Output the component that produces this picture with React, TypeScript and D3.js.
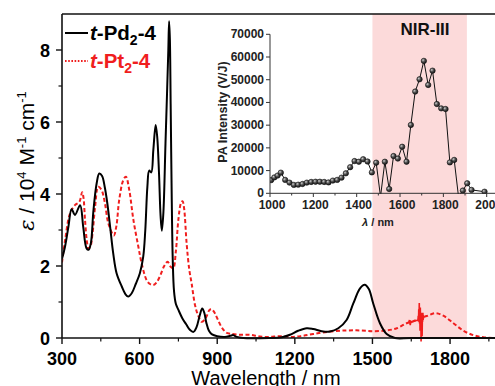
import React from "react";
import * as d3 from "d3";

// ---- Main spectrum data ----
const pdWavelength = [300,312,325,337,350,370,382,395,403,412,421,434,444,455,465,475,486,498,511,531,545,556,570,585,601,614,622,630,637,645,653,662,668,675,681,686,692,700,706,711,714,717,720,724,728,733,740,750,765,780,795,808,820,832,842,850,858,868,880,900,930,950,962,975,1000,1100,1150,1181,1213,1246,1271,1304,1336,1368,1400,1426,1452,1470,1486,1503,1529,1555,1587,1650,2000];
const pdValues = [2.2,2.55,3.1,3.58,3.42,3.69,3.09,2.49,2.45,2.65,3.5,4.3,4.57,4.5,4.2,3.75,3.09,2.35,1.8,1.43,1.22,1.15,1.25,1.5,1.8,2.26,3.0,4.2,4.65,4.6,5.22,5.92,5.59,4.57,3.4,2.98,3.5,5.4,6.8,8.0,8.8,8.3,6.5,4.0,2.2,1.3,0.95,0.78,0.55,0.38,0.22,0.17,0.3,0.62,0.82,0.7,0.42,0.2,0.1,0.05,0.03,0.06,0.08,0.03,0,0,0.02,0.09,0.2,0.27,0.25,0.19,0.18,0.27,0.5,0.96,1.38,1.48,1.36,0.96,0.41,0.11,0,0,0];

const ptWavelength = [300,312,331,350,367,378,383,389,396,402,410,418,428,440,453,466,479,500,510,521,537,547,560,576,595,608,627,640,653,666,679,695,708,720,730,740,750,760,766,772,782,792,801,814,825,840,850,860,870,879,890,900,917,935,950,988,1027,1065,1100,1143,1194,1230,1271,1336,1400,1452,1503,1555,1594,1632,1658,1685,1710,1742,1774,1813,1852,1890,1929,1970,2000];
const ptValues = [2.1,2.72,3.46,3.69,3.78,4.05,3.9,3.28,2.7,2.49,2.55,2.9,3.65,4.2,4.11,3.74,3.19,2.85,3.1,3.83,4.39,4.48,4.11,3.28,2.54,2.07,1.61,1.5,1.47,1.55,1.72,2.0,2.12,1.98,1.94,2.4,3.3,3.75,3.8,3.6,2.6,1.9,1.52,0.92,0.65,0.45,0.5,0.62,0.78,0.8,0.7,0.55,0.3,0.15,0.12,0.09,0.09,0.04,0.03,0.05,0.03,0.06,0.11,0.18,0.21,0.21,0.19,0.21,0.27,0.41,0.47,0.55,0.61,0.69,0.62,0.41,0.2,0.08,0.02,0,0];

// noisy detector segment of t-Pt2-4
const ptNoiseWavelength = [1640,1643,1646,1649,1652,1676,1677,1678,1679,1680,1681,1682,1683,1684,1685,1686,1687,1688,1689,1690,1691,1692,1693,1694,1695,1696,1697,1698,1699,1700];
const ptNoiseValues = [0.42,0.5,0.36,0.46,0.44,0.5,0.62,0.45,0.8,0.55,0.97,0.4,0.75,0.2,0.85,0.35,0.65,-0.1,0.7,0.3,0.6,0.05,0.55,0.45,0.7,0.5,0.62,0.55,0.6,0.58];

const xMajorTicks = [300,600,900,1200,1500,1800];
const xMinorTicks = [450,750,1050,1350,1650,1950];
const yMajorTicks = [0,2,4,6,8];
const yMinorTicks = [1,3,5,7];
const nirBand = [1500, 1865];

// ---- Inset (PA) data ----
const paWavelength = [1005,1020,1035,1050,1070,1090,1110,1130,1150,1170,1190,1210,1230,1250,1270,1290,1310,1330,1350,1370,1390,1410,1430,1450,1470,1490,1510,1530,1550,1570,1590,1610,1630,1650,1670,1690,1710,1730,1750,1770,1790,1810,1830,1850,1870,1890,1910,1930,1990];
const paIntensity = [5800,7000,7800,9100,5900,4700,3700,3800,4100,4700,5000,5100,5100,5000,4800,5600,5900,6900,8800,11500,14200,13900,15000,14000,9200,13500,-1500,13900,1900,16400,15300,20500,13900,30100,44800,50200,58300,47700,54000,39300,37400,37100,13600,14700,-1500,1200,4400,1500,700];
const insetXTicks = [1000,1200,1400,1600,1800,2000];
const insetXMinor = [1100,1300,1500,1700,1900];
const insetYTicks = [0,10000,20000,30000,40000,50000,60000,70000];

const RED = "#f01e1e";
const FONT = "Arial, 'Liberation Sans', sans-serif";

export default function App() {
  const x = d3.scaleLinear().domain([300, 2000]).range([62, 501.8]);
  const y = d3.scaleLinear().domain([0, 9]).range([338, 14]);
  const ix = d3.scaleLinear().domain([1000, 2000]).range([270, 486.7]);
  const iy = d3.scaleLinear().domain([0, 70000]).range([193.3, 34.3]);

  const line = d3.line<[number, number]>().x(d => x(d[0])).y(d => y(d[1])).curve(d3.curveCatmullRom.alpha(0.5));
  const lineLin = d3.line<[number, number]>().x(d => x(d[0])).y(d => y(d[1]));
  const iline = d3.line<[number, number]>().x(d => ix(d[0])).y(d => iy(d[1]));

  const pd = pdWavelength.map((w, i) => [w, pdValues[i]] as [number, number]);
  const pt = ptWavelength.map((w, i) => [w, ptValues[i]] as [number, number]);
  const noise = ptNoiseWavelength.map((w, i) => [w, ptNoiseValues[i]] as [number, number]);
  const pa = paWavelength.map((w, i) => [w, paIntensity[i]] as [number, number]);

  return (
    <svg width={495} height={386} style={{ position: "absolute", left: 0, top: 0, background: "#fff" }} fontFamily={FONT}>
      <defs>
        <clipPath id="mainClip"><rect x={62} y={14} width={440} height={340} /></clipPath>
        <clipPath id="insetClip"><rect x={270} y={20} width={230} height={174} /></clipPath>
        <radialGradient id="ball" cx="0.35" cy="0.35" r="0.7">
          <stop offset="0" stopColor="#d0d0d0" />
          <stop offset="0.45" stopColor="#555" />
          <stop offset="1" stopColor="#111" />
        </radialGradient>
      </defs>
      <rect width={495} height={386} fill="#fff" />
      {/* NIR-III band */}
      <rect x={x(nirBand[0])} y={14} width={x(nirBand[1]) - x(nirBand[0])} height={338 - 14} fill="#fcdada" />

      {/* main curves */}
      <g clipPath="url(#mainClip)">
        <path d={line(pt) || ""} fill="none" stroke={RED} strokeWidth={2} strokeDasharray="4 2.5" />
        <path d={lineLin(noise) || ""} fill="none" stroke={RED} strokeWidth={1.6} />
        <path d={line(pd) || ""} fill="none" stroke="#000" strokeWidth={2} />
      </g>

      {/* main axes */}
      <line x1={62} x2={495} y1={14} y2={14} stroke="#111" strokeWidth={1.6} />
      <line x1={62} x2={62} y1={14} y2={338} stroke="#111" strokeWidth={1.6} />
      <line x1={62} x2={495} y1={338} y2={338} stroke="#111" strokeWidth={1.6} />
      {xMajorTicks.map(t => (
        <g key={"xm" + t}>
          <line x1={x(t)} x2={x(t)} y1={338} y2={344} stroke="#111" strokeWidth={1.4} />
          <text x={x(t)} y={364.5} textAnchor="middle" fontSize={18} fontWeight="bold">{t}</text>
        </g>
      ))}
      {xMinorTicks.map(t => (
        <line key={"xn" + t} x1={x(t)} x2={x(t)} y1={338} y2={341.5} stroke="#111" strokeWidth={1.2} />
      ))}
      {yMajorTicks.map(t => (
        <g key={"ym" + t}>
          <line x1={56} x2={62} y1={y(t)} y2={y(t)} stroke="#111" strokeWidth={1.4} />
          <text x={50} y={y(t) + 6.5} textAnchor="end" fontSize={18} fontWeight="bold">{t}</text>
        </g>
      ))}
      {yMinorTicks.map(t => (
        <line key={"yn" + t} x1={58.5} x2={62} y1={y(t)} y2={y(t)} stroke="#111" strokeWidth={1.2} />
      ))}
      <text x={266} y={385} textAnchor="middle" fontSize={20}>Wavelength / nm</text>
      <text transform="translate(34,161) rotate(-90)" textAnchor="middle" fontSize={21}>
        <tspan fontStyle="italic" fontFamily="'DejaVu Serif', serif">ε</tspan>
        <tspan> / 10</tspan>
        <tspan fontSize={13} dy={-8}>4</tspan>
        <tspan dy={8}> M</tspan>
        <tspan fontSize={13} dy={-8}>-1</tspan>
        <tspan dy={8}> cm</tspan>
        <tspan fontSize={13} dy={-8}>-1</tspan>
      </text>

      {/* legend */}
      <line x1={65} x2={88} y1={33} y2={33} stroke="#000" strokeWidth={2} />
      <text x={90} y={40} fontSize={20.5} fontWeight="bold" fill="#000">
        <tspan fontStyle="italic">t</tspan>
        <tspan>-Pd</tspan>
        <tspan fontSize={14} dy={5}>2</tspan>
        <tspan dy={-5}>-4</tspan>
      </text>
      <line x1={65} x2={88} y1={61} y2={61} stroke={RED} strokeWidth={2} strokeDasharray="1.6 1.6" />
      <text x={90} y={68} fontSize={20.5} fontWeight="bold" fill={RED}>
        <tspan fontStyle="italic">t</tspan>
        <tspan>-Pt</tspan>
        <tspan fontSize={14} dy={5}>2</tspan>
        <tspan dy={-5}>-4</tspan>
      </text>

      {/* NIR-III label */}
      <text x={425} y={35} textAnchor="middle" fontSize={17} fontWeight="bold" fill="#111">NIR-III</text>

      {/* inset */}
      <g clipPath="url(#insetClip)">
        <path d={iline(pa) || ""} fill="none" stroke="#111" strokeWidth={1} />
        {pa.map((d, i) => (
          <circle key={i} cx={ix(d[0])} cy={iy(d[1])} r={2.7} fill="url(#ball)" stroke="#111" strokeWidth={0.6} />
        ))}
      </g>
      <line x1={270} x2={270} y1={34.3} y2={193.3} stroke="#333" strokeWidth={1} />
      <line x1={270} x2={495} y1={193.3} y2={193.3} stroke="#333" strokeWidth={1} />
      {insetYTicks.map(t => (
        <g key={"iy" + t}>
          <line x1={266} x2={270} y1={iy(t)} y2={iy(t)} stroke="#333" strokeWidth={1} />
          <text x={264} y={iy(t) + 4} textAnchor="end" fontSize={12} fontWeight="bold" fill="#222">{t}</text>
        </g>
      ))}
      {insetXTicks.map(t => (
        <g key={"ix" + t}>
          <line x1={ix(t)} x2={ix(t)} y1={193.3} y2={197} stroke="#333" strokeWidth={1} />
          <text x={ix(t) + 2} y={209} textAnchor="middle" fontSize={12} fontWeight="bold" fill="#222">{t}</text>
        </g>
      ))}
      {insetXMinor.map(t => (
        <line key={"ixn" + t} x1={ix(t)} x2={ix(t)} y1={193.3} y2={195.5} stroke="#333" strokeWidth={1} />
      ))}
      <text transform="translate(227,112) rotate(-90)" textAnchor="middle" fontSize={12.5} fontWeight="bold" fill="#222">PA Intensity (V/J)</text>
      <text x={378} y={226} textAnchor="middle" fontSize={11} fontWeight="bold" fill="#222">
        <tspan fontStyle="italic">λ</tspan>
        <tspan> / nm</tspan>
      </text>
    </svg>
  );
}
